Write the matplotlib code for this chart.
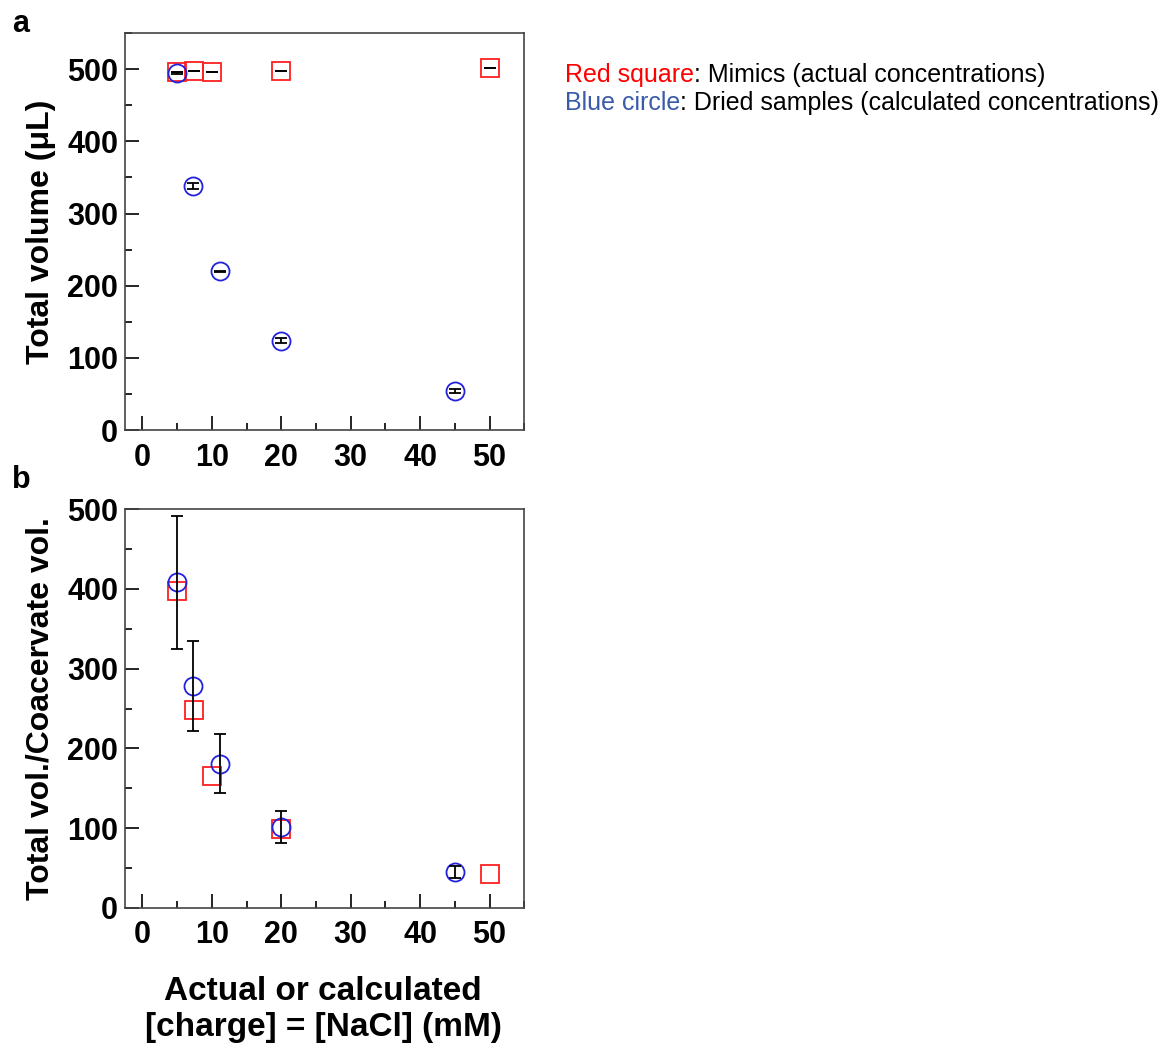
import numpy as np
import matplotlib; matplotlib.use("Agg")
import matplotlib.pyplot as plt
from matplotlib.ticker import MultipleLocator

plt.rcParams.update({"font.family": "Liberation Sans", "font.size": 16,
                     "xtick.direction": "in", "ytick.direction": "in"})

# panel a: total volume (uL)
mim_x = [5, 7.5, 10, 20, 50]
mim_vol = [496, 497, 496, 498, 502]
mim_vol_err = [0, 0, 0, 0, 0]
dry_x = [5, 7.3, 11.2, 20, 45]
dry_vol = [495, 338, 220, 124, 54]
dry_vol_err = [1, 4, 1, 3, 3]

# panel b: total vol./coacervate vol.
mim_ratio = [397, 248, 166, 99, 42]
dry_ratio = [408, 278, 181, 102, 45]
dry_ratio_err = [83, 56, 37, 20, 8]

RED = "#FF2020"; BLUE = "#2222DD"
fig = plt.figure(figsize=(11.64, 10.47), dpi=100, facecolor="white")
axa = fig.add_axes([0.1074, 0.5893, 0.343, 0.379])
axb = fig.add_axes([0.1074, 0.1328, 0.343, 0.381])

mk = dict(ls="none", ms=13, mew=1.3, mfc="none")
eb = dict(fmt="none", ecolor="black", elinewidth=1.3, capsize=4, capthick=1.3, zorder=4)

axa.plot(mim_x, mim_vol, "s", mec=RED, **mk)
axa.plot(dry_x, dry_vol, "o", mec=BLUE, **mk)
axa.errorbar(mim_x, mim_vol, yerr=mim_vol_err, **eb)
axa.errorbar(dry_x, dry_vol, yerr=dry_vol_err, **eb)
axa.set_ylim(0, 550)
axa.set_ylabel("Total volume (\u03bcL)", fontsize=23, fontweight="bold", labelpad=8)

axb.plot(mim_x, mim_ratio, "s", mec=RED, **mk)
axb.plot(dry_x, dry_ratio, "o", mec=BLUE, **mk)
axb.errorbar(dry_x, dry_ratio, yerr=dry_ratio_err, **eb)
axb.set_ylim(0, 500)
axb.set_ylabel("Total vol./Coacervate vol.", fontsize=23, fontweight="bold", labelpad=8)

for ax in (axa, axb):
    ax.set_xlim(-2.5, 55)
    ax.xaxis.set_major_locator(MultipleLocator(10)); ax.xaxis.set_minor_locator(MultipleLocator(5))
    ax.yaxis.set_major_locator(MultipleLocator(100)); ax.yaxis.set_minor_locator(MultipleLocator(50))
    ax.tick_params(which="major", length=10, width=1.2, labelsize=22, pad=5)
    ax.tick_params(which="minor", length=5, width=1.2)
    ax.tick_params(axis="x", which="major", pad=9)
    for lab in ax.get_xticklabels() + ax.get_yticklabels():
        lab.set_fontweight("bold")
    for s in ax.spines.values():
        s.set_linewidth(1.2); s.set_color("#444444")

# x label placed under panel b
fig.text(0.2775, 0.036, "Actual or calculated\n[charge] = [NaCl] (mM)", fontsize=24,
         fontweight="bold", ha="center", va="center", linespacing=1.22)

fig.text(0.010, 0.9766, "a", fontsize=22, fontweight="bold", va="center")
fig.text(0.010, 0.5415, "b", fontsize=22, fontweight="bold", va="center")

t1 = fig.text(0.4854, 0.9284, "Red square", color="#FF0000", fontsize=18, va="center")
t2 = fig.text(0.4854, 0.9016, "Blue circle", color="#3A5BA8", fontsize=18, va="center")
fig.canvas.draw()
r = fig.canvas.get_renderer()
inv = fig.transFigure.inverted()
for t, rest in ((t1, ": Mimics (actual concentrations)"),
                (t2, ": Dried samples (calculated concentrations)")):
    bb = t.get_window_extent(r).transformed(inv)
    fig.text(bb.x1, t.get_position()[1], rest, color="black", fontsize=18, va="center")

fig.savefig("out.png", dpi=100, facecolor="white")
